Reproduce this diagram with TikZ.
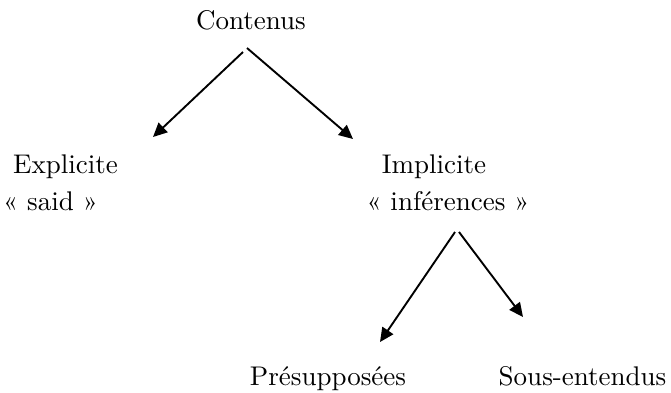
\documentclass[tikz,border=0pt]{standalone}
\usepackage{fontspec}
\setmainfont{lmroman10-regular}[Extension=.otf]
\usetikzlibrary{arrows.meta}
\begin{document}
\begin{tikzpicture}[x=1pt,y=-1pt,
  lbl/.style={font=\fontsize{27}{31}\selectfont, inner sep=0pt, anchor=base},
  arr/.style={line width=1.9pt, -{Triangle[length=14pt,width=13pt]}}]
\useasboundingbox (0,0) rectangle (671,392);
\node[lbl] (cont) at (251,29) {Contenus};
\node[lbl] (expl) at (65.5,173) {Explicite};
\node[lbl] (said) at (50.5,210) {« said »};
\node[lbl] (impl) at (434,173) {Implicite};
\node[lbl] (infer) at (448,210) {« inférences »};
\node[lbl] (presup) at (328,385) {Présupposées};
\node[lbl] (sous) at (582.5,385) {Sous-entendus};
\coordinate (cA) at (243,52);
\coordinate (cB) at (247,48);
\coordinate (eT) at (153,137);
\coordinate (iT) at (353,139);
\coordinate (iA) at (455,232);
\coordinate (iB) at (459,232);
\coordinate (pT) at (380,342);
\coordinate (sT) at (523,317);
\draw[arr] (cA) -- (eT);
\draw[arr] (cB) -- (iT);
\draw[arr] (iA) -- (pT);
\draw[arr] (iB) -- (sT);
\end{tikzpicture}
\end{document}
